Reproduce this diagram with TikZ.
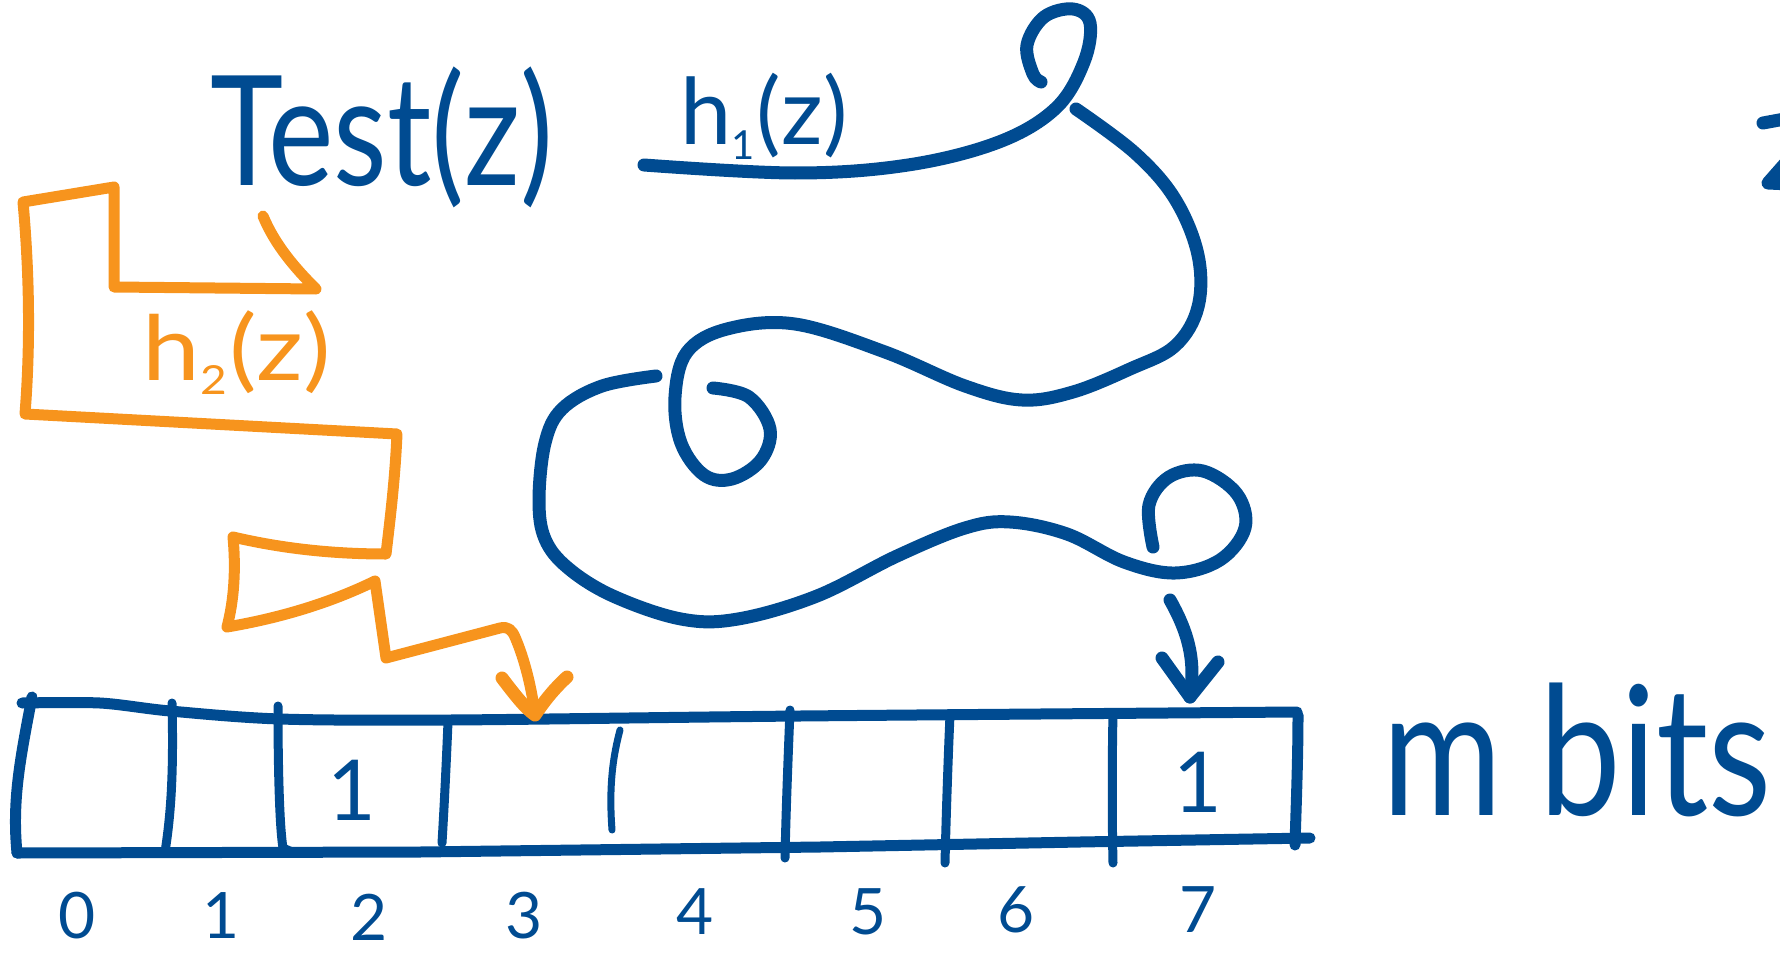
\documentclass[tikz,border=0pt]{standalone}
\usepackage{fontspec}
\setmainfont{Lato}
\definecolor{hblue}{HTML}{004B91}
\definecolor{horange}{HTML}{F7941D}
\newcommand{\lowsub}[2]{{\fontsize{#1}{#1}\selectfont\raisebox{-0.35em}{#2}}}
\begin{document}
\begin{tikzpicture}[x=1pt,y=-1pt,
  blstroke/.style={draw=hblue,line width=13pt,line cap=round,line join=round},
  blcell/.style={draw=hblue,line width=11pt,line cap=round,line join=round},
  blthin/.style={draw=hblue,line width=9pt,line cap=round,line join=round},
  orstroke/.style={draw=horange,line width=11pt,line cap=round,line join=round},
  btxt/.style={text=hblue,inner sep=0pt,anchor=base},
  otxt/.style={text=horange,inner sep=0pt,anchor=base},
  digit/.style={btxt,font=\fontsize{64}{70}\selectfont},
  bit/.style={btxt,font=\fontsize{84}{90}\selectfont}]
\useasboundingbox (0,0) rectangle (1780,955);

% ---- texts ----
\node[btxt,font=\fontsize{153}{160}\selectfont,xscale=0.81] (test) at (382,185) {Test(z)};
\node[btxt,font=\fontsize{92}{100}\selectfont] (h1) at (764,145) {h\lowsub{40}{1}\kern2pt(z)};
\node[otxt,font=\fontsize{90}{100}\selectfont,xscale=1.15] (h2) at (237,380) {h\lowsub{40}{2}\kern2pt(z)};
\node[btxt,font=\fontsize{180}{190}\selectfont,xscale=0.81] (mbits) at (1577,815) {m bits};

\node[digit] (n0) at (77,938) {0};
\node[digit] (n1) at (221,938) {1};
\node[digit] (n2) at (369,940) {2};
\node[digit] (n3) at (524,938) {3};
\node[digit] (n4) at (695,934) {4};
\node[digit] (n5) at (868,934) {5};
\node[digit] (n6) at (1016,932) {6};
\node[digit] (n7) at (1198,932) {7};

\node[bit] (one2) at (352,820) {1};
\node[bit] (one7) at (1198,812) {1};

% ---- named points ----
\coordinate (c3top) at (535,715);
\coordinate (c7top) at (1190,697);

% ---- bit array ----
\draw[blcell] plot[smooth,tension=0.5] coordinates {(22,703) (100,703) (170,711) (280,719) (450,720) (800,716) (1297,712)};
\draw[blcell] (17,853) -- (420,852) -- (820,847) -- (1080,842) -- (1310,838);
\draw[blcell] (32,697) .. controls (20,760) and (12,800) .. (17,853);
\draw[blthin] (172,703) .. controls (174,780) and (170,820) .. (165,852);
\draw[blthin] (278,706) .. controls (278,780) and (280,830) .. (283,848) -- (292,852);
\draw[blthin] (448,722) .. controls (446,770) and (444,810) .. (442,843);
\draw[blthin] (790,710) .. controls (788,760) and (786,810) .. (785,858);
\draw[blthin] (950,715) .. controls (948,760) and (946,820) .. (945,863);
\draw[blthin] (1113,713) .. controls (1112,760) and (1112,820) .. (1113,863);
\draw[blcell] (1298,715) .. controls (1298,760) and (1296,810) .. (1295,845);
\draw[draw=hblue,line width=7pt,line cap=round] (620,730) .. controls (612,760) and (609,790) .. (612,830);

% ---- h1 path (blue) ----
\draw[blstroke] plot[smooth,tension=0.6] coordinates {(644,165) (795,173) (908,165) (999,142) (1056,108) (1084,62) (1090,23) (1073,9) (1044,17) (1027,45) (1033,74) (1041,82)};
\draw[blstroke] plot[smooth,tension=0.6] coordinates {(1076,109) (1135,153) (1175,199) (1198,255) (1198,307) (1175,346) (1130,369) (1073,392) (1022,400) (965,386) (885,352) (795,324) (727,329) (687,352) (675,397) (681,443) (704,475) (732,479) (761,460) (770,429) (749,397) (713,388)};
\draw[blstroke] plot[smooth,tension=0.6] coordinates {(656,376) (602,386) (562,409) (545,443) (539,500) (545,539) (568,568) (613,596) (681,619) (738,619) (817,596) (897,556) (965,528) (1010,522) (1067,534) (1124,562) (1175,573) (1220,560) (1245,528) (1237,494) (1203,471) (1169,477) (1149,505) (1153,547)};
\draw[blstroke] (1170,600) .. controls (1188,632) and (1196,660) .. (c7top);
\draw[blstroke] (1162,658) -- (c7top) -- (1218,662);

% ---- h2 path (orange) ----
\draw[orstroke] (263,216) .. controls (275,245) and (295,268) .. (316,289) -- (114,287) -- (114,187) -- (23,202)
  .. controls (30,280) and (30,350) .. (25,414) -- (397,434)
  .. controls (395,480) and (390,520) .. (386,554)
  .. controls (330,554) and (280,548) .. (233,537)
  .. controls (236,570) and (234,600) .. (227,627)
  .. controls (280,618) and (330,603) .. (375,581) -- (386,658) -- (500,628)
  .. controls (508,626) and (512,630) .. (515,637)
  .. controls (525,660) and (532,690) .. (c3top);
\draw[orstroke,line width=13pt] (502,678) .. controls (515,695) and (525,708) .. (c3top) .. controls (545,700) and (555,688) .. (567,677);

% ---- cut-off letter at right edge ----
\draw[blstroke] (1763,123) -- (1790,118);
\draw[blstroke] (1790,158) -- (1768,183) -- (1790,184);
\end{tikzpicture}
\end{document}
